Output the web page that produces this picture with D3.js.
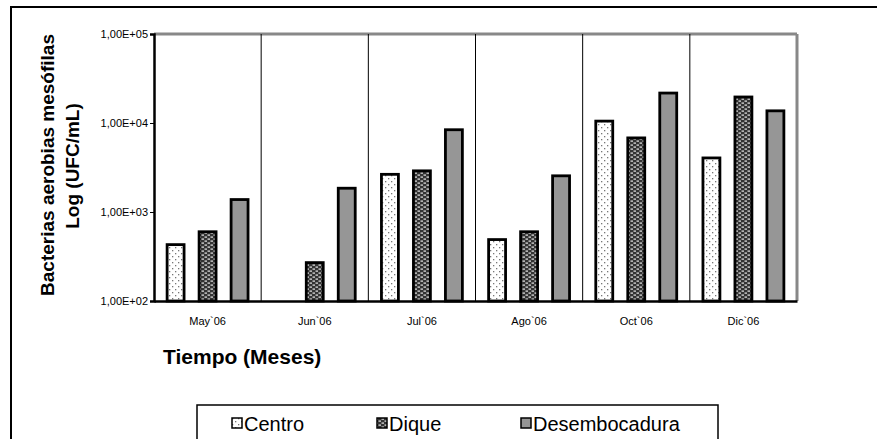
<!DOCTYPE html>
<html>
<head>
<meta charset="utf-8">
<script src="https://cdn.jsdelivr.net/npm/d3@7"></script>
<style>
  body { margin: 0; background: #fff; }
  svg { font-family: "Liberation Sans", Arial, sans-serif; }
</style>
</head>
<body>
<svg id="chart" width="877" height="439"></svg>
<script>
const w = 877, h = 439;
const months = ['May`06', 'Jun`06', 'Jul`06', 'Ago`06', 'Oct`06', 'Dic`06'];
const seriesNames = ['Centro', 'Dique', 'Desembocadura'];
const centro = [430, null, 2650, 490, 10500, 4050];
const dique = [600, 270, 2900, 600, 6800, 19600];
const desembocadura = [1380, 1850, 8400, 2550, 21700, 13700];
const yTicks = [1e2, 1e3, 1e4, 1e5];
const yTickLabels = ['1,00E+02', '1,00E+03', '1,00E+04', '1,00E+05'];

const margin = {left: 154, top: 34, right: 797, bottom: 301};

const svg = d3.select('#chart');
const defs = svg.append('defs');

// dotted fill for Centro
const p1 = defs.append('pattern').attr('id', 'dots').attr('patternUnits', 'userSpaceOnUse')
    .attr('width', 6).attr('height', 6);
p1.append('rect').attr('width', 6).attr('height', 6).attr('fill', '#fff');
p1.append('rect').attr('x', 1).attr('y', 1).attr('width', 1.3).attr('height', 1.3).attr('fill', '#777');
p1.append('rect').attr('x', 4).attr('y', 4).attr('width', 1.3).attr('height', 1.3).attr('fill', '#777');

// dark checker fill for Dique
const p2 = defs.append('pattern').attr('id', 'checks').attr('patternUnits', 'userSpaceOnUse')
    .attr('width', 6).attr('height', 4);
p2.append('rect').attr('width', 6).attr('height', 4).attr('fill', '#333');
p2.append('rect').attr('x', 0.5).attr('y', 0.5).attr('width', 2.5).attr('height', 1.2).attr('fill', '#e8e8e8');
p2.append('rect').attr('x', 3.5).attr('y', 2.5).attr('width', 2.5).attr('height', 1.2).attr('fill', '#e8e8e8');

const fills = ['url(#dots)', 'url(#checks)', '#969696'];

// outer frame
svg.append('rect').attr('x', 11).attr('y', 7).attr('width', 900).attr('height', 500)
    .attr('fill', 'none').attr('stroke', '#000').attr('stroke-width', 2);

const x0 = d3.scaleBand().domain(months).range([margin.left, margin.right]);
const x1 = d3.scaleBand().domain(seriesNames).range([0, x0.bandwidth()])
    .paddingInner(0.47).paddingOuter(0.41);
const y = d3.scaleLog().domain([1e2, 1e5]).range([margin.bottom, margin.top]);

// top and right plot border (gray)
svg.append('line').attr('x1', margin.left).attr('x2', margin.right)
    .attr('y1', margin.top).attr('y2', margin.top)
    .attr('stroke', '#888').attr('stroke-width', 3);
svg.append('line').attr('x1', margin.right).attr('x2', margin.right)
    .attr('y1', margin.top).attr('y2', margin.bottom)
    .attr('stroke', '#888').attr('stroke-width', 3);

// category separators
svg.append('g').selectAll('line').data(months.slice(1)).join('line')
    .attr('x1', d => x0(d)).attr('x2', d => x0(d))
    .attr('y1', margin.top).attr('y2', margin.bottom)
    .attr('stroke', '#000').attr('stroke-width', 1);

// bars
const table = seriesNames.map((s, i) => ({name: s, fill: fills[i], values: [centro, dique, desembocadura][i]}));
const groups = svg.append('g');
table.forEach(s => {
  groups.append('g').selectAll('rect')
    .data(months.map((m, i) => ({m, v: s.values[i]})).filter(d => d.v != null))
    .join('rect')
    .attr('x', d => x0(d.m) + x1(s.name))
    .attr('width', x1.bandwidth())
    .attr('y', d => y(d.v))
    .attr('height', d => margin.bottom - y(d.v))
    .attr('fill', s.fill)
    .attr('stroke', '#000').attr('stroke-width', 2.8);
});

// y axis
const yAxis = d3.axisLeft(y).tickValues(yTicks).tickFormat((d, i) => yTickLabels[i]).tickSize(4).tickPadding(2);
const ya = svg.append('g').attr('transform', `translate(${margin.left},0)`).call(yAxis);
ya.select('.domain').attr('stroke-width', 2.5);
ya.selectAll('text').attr('font-size', 11).attr('fill', '#000').attr('font-family', '"Liberation Sans", Arial, sans-serif');

// x axis
const xAxis = d3.axisBottom(x0).tickSize(0).tickPadding(16);
const xa = svg.append('g').attr('transform', `translate(0,${margin.bottom})`).call(xAxis);
xa.select('.domain').attr('stroke-width', 2.5);
xa.selectAll('text').attr('font-size', 11).attr('fill', '#000').attr('font-family', '"Liberation Sans", Arial, sans-serif');

// axis titles
svg.append('text').attr('transform', 'translate(54,165) rotate(-90)')
    .attr('text-anchor', 'middle').attr('font-size', 19).attr('font-weight', 'bold')
    .text('Bacterias aerobias mesófilas');
svg.append('text').attr('transform', 'translate(79,166) rotate(-90)')
    .attr('text-anchor', 'middle').attr('font-size', 19).attr('font-weight', 'bold')
    .text('Log (UFC/mL)');
svg.append('text').attr('x', 163).attr('y', 364)
    .attr('font-size', 21).attr('font-weight', 'bold').text('Tiempo (Meses)');

// legend
const lg = svg.append('g');
lg.append('rect').attr('x', 197).attr('y', 405).attr('width', 521).attr('height', 40)
    .attr('fill', '#fff').attr('stroke', '#000').attr('stroke-width', 1.5);
const legendX = [232, 377, 521];
table.forEach((s, i) => {
  lg.append('rect').attr('x', legendX[i]).attr('y', 418).attr('width', 10).attr('height', 10)
    .attr('fill', s.fill).attr('stroke', '#000').attr('stroke-width', 1.5);
  lg.append('text').attr('x', legendX[i] + 12).attr('y', 431).attr('font-size', 20).text(s.name);
});
</script>
</body>
</html>
